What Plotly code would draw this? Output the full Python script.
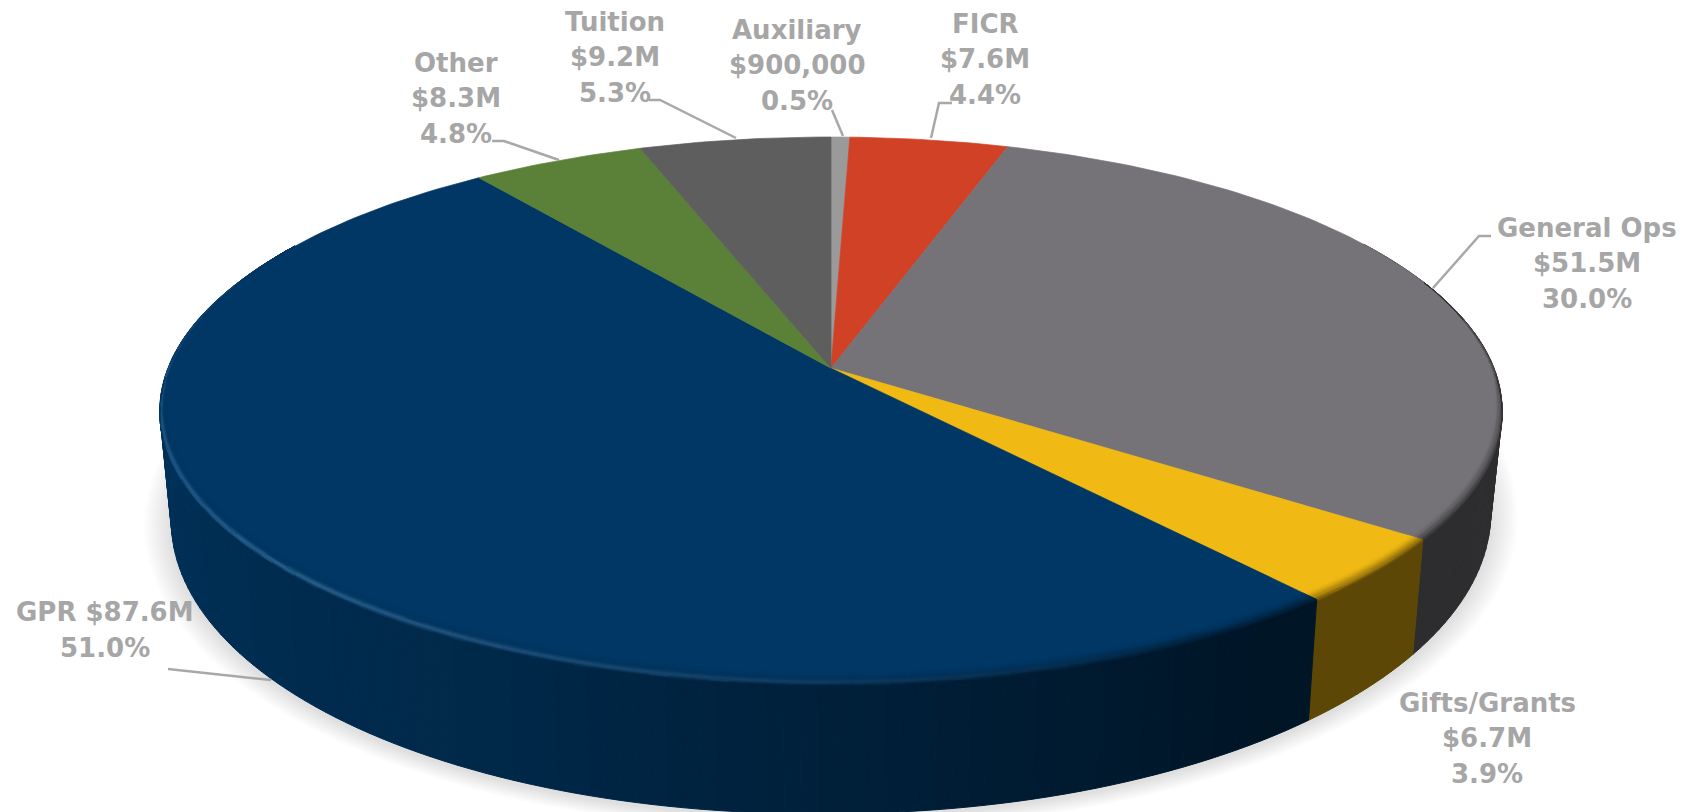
import math
import numpy as np
import plotly.graph_objects as go

# clockwise from 12 o'clock
categories = ['Auxiliary', 'FICR', 'General Ops', 'Gifts/Grants', 'GPR', 'Other', 'Tuition']
values = [0.9, 7.6, 51.5, 6.7, 87.6, 8.3, 9.2]
label_text = [['Auxiliary', '$900,000', '0.5%'], ['FICR', '$7.6M', '4.4%'], ['General Ops', '$51.5M', '30.0%'],
              ['Gifts/Grants', '$6.7M', '3.9%'], ['GPR $87.6M', '51.0%'], ['Other', '$8.3M', '4.8%'],
              ['Tuition', '$9.2M', '5.3%']]
colors = ['#9a9a9a', '#d04125', '#757378', '#f0b913', '#003764', '#5a8137', '#5e5e5e']

# label anchors and leader lines, in page pixels
label_pos = [(797, 65), (985, 59), (1587, 263), (1487, 738), (105, 630), (456, 98), (615, 57)]
leaders = [
    [(832, 110), (843, 136)],
    [(952, 103), (939, 103), (931, 138)],
    [(1491, 236), (1479, 236), (1433, 288)],
    [(168, 669), (271, 680)],
    [(492, 141), (504, 141), (559, 160)],
    [(649, 100), (660, 100), (736, 138)],
]

# perspective of the pie disc
CX, CY, A, B, K = 831.0, 368.2, 663.0, 267.0, 0.155
BOT_CY, BOT_SX, BOT_SY, TILT = 466.0, 0.983, 1.1, -0.012


def top_pt(t, r=1.0):
    x, y = r * math.sin(math.radians(t)), r * math.cos(math.radians(t))
    den = 1 + K * y
    return CX + A * x / den, CY - B * y / den


def bot_pt(t):
    px, py = top_pt(t)
    return CX + BOT_SX * (px - CX), BOT_CY + BOT_SY * (py - CY) + TILT * min(px - CX, 0)


def side_shade(t):
    return np.interp(t, [0, 145, 180, 205, 240, 275, 360], [.42, .38, .58, .72, .83, .92, .92])


def rgb(hex_color):
    return np.array([int(hex_color[i:i + 2], 16) for i in (1, 3, 5)], dtype=float)


def to_hex(c):
    c = np.clip(np.round(np.array(c)), 0, 255).astype(int)
    return '#%02x%02x%02x' % tuple(c)


def steps(t0, t1, size):
    n = max(1, int(math.ceil((t1 - t0) / size)))
    return [t0 + (t1 - t0) * i / n for i in range(n + 1)]


polys = {}


def add_poly(color, pts):
    polys.setdefault(color, []).append(pts)


def flush(fig, width=0.7):
    for color, items in polys.items():
        xs, ys = [], []
        for pts in items:
            xs += [p[0] for p in pts] + [pts[0][0], None]
            ys += [p[1] for p in pts] + [pts[0][1], None]
        fig.add_trace(go.Scatter(x=xs, y=ys, mode='lines', fill='toself', fillcolor=color,
                                 line=dict(color=color, width=width), hoverinfo='skip', showlegend=False))
    polys.clear()


total = sum(values)
edges = np.cumsum([0] + values) / total * 360
fig = go.Figure()

# soft shadow under the disc
for i in range(16):
    grow = 1 + 0.0026 * (i + 1)
    ts = steps(0, 360, 3)
    pts = [bot_pt(t) for t in ts]
    xs = [CX + (p[0] - CX) * grow for p in pts]
    ys = [BOT_CY + 3 + (p[1] - BOT_CY) * grow for p in pts]
    fig.add_trace(go.Scatter(x=xs, y=ys, mode='lines', fill='toself', fillcolor='rgba(0,0,0,0.009)',
                             line=dict(width=0), hoverinfo='skip', showlegend=False))

# side wall, shaded by angle; each strip is its own trace because strips fold over near the silhouette
for i, c in enumerate(colors):
    base = rgb(c)
    ts = steps(edges[i], edges[i + 1], 1.25)
    for t0, t1 in zip(ts[:-1], ts[1:]):
        if t0 > 285 or t1 < 60:
            continue
        col = to_hex(base * side_shade((t0 + t1) / 2))
        add_poly(col, [top_pt(t0), top_pt(t1), bot_pt(t1), bot_pt(t0)])
        flush(fig, 1.0)

# top face
for i, c in enumerate(colors):
    ts = steps(edges[i], edges[i + 1], 1)
    pts = [(CX, CY)] + [top_pt(t) for t in ts]
    add_poly(c, pts)
flush(fig)

# bevel on the near rim
BANDS = 10
for i, c in enumerate(colors):
    base = rgb(c)
    ts = steps(edges[i], edges[i + 1], 1.5)
    for t0, t1 in zip(ts[:-1], ts[1:]):
        tm = (t0 + t1) / 2
        strength = np.interp(tm, [70, 95, 270, 300], [0, 1, 1, 0])
        if strength <= 0:
            continue
        side = base * side_shade(tm)
        glow = np.interp(tm, [150, 185, 225, 270, 300], [0, .15, .33, .2, .03])

        def rim(t, u):
            # u runs from 0 (on the face) to 1 (down on the wall), stays on the radius while on the face
            d = (0.007 + 0.024 * abs(math.cos(math.radians(t)))) * strength
            x, y = top_pt(t, 1 - d * max(0, 1 - u / 0.67))
            return x, y + 12 * max(0, u - 0.67) * strength

        for b in range(BANDS):
            u0, u1 = b / BANDS, (b + 1) / BANDS
            um = (u0 + u1) / 2
            mix = um * um * (3 - 2 * um)
            col = base * (1 - mix) + side * mix
            bump = math.exp(-((um - 0.58) / 0.16) ** 2)
            col = col + (np.array([120, 140, 160]) * glow * bump)
            add_poly(to_hex(col), [rim(t0, u0), rim(t1, u0), rim(t1, u1), rim(t0, u1)])
flush(fig)

for line in leaders:
    fig.add_trace(go.Scatter(x=[p[0] for p in line], y=[p[1] for p in line], mode='lines',
                             line=dict(color='#a8a8a8', width=2.5), hoverinfo='skip', showlegend=False))

for lines, (x, y) in zip(label_text, label_pos):
    for j, text in enumerate(lines):
        fig.add_annotation(x=x, y=y + (j - (len(lines) - 1) / 2) * 35.5, xref='x', yref='y', text=text,
                           showarrow=False, align='center', xanchor='center', yanchor='middle',
                           font=dict(family='DejaVu Sans', size=26, color='#a6a6a6', weight=700))

fig.update_layout(
    width=1688, height=812, autosize=False,
    margin=dict(l=0, r=0, t=0, b=0),
    paper_bgcolor='white', plot_bgcolor='white',
    xaxis=dict(range=[0, 1688], visible=False, fixedrange=True),
    yaxis=dict(range=[812, 0], visible=False, fixedrange=True),
    showlegend=False,
)
fig.write_html("out.html", config=dict(displayModeBar=False),
               post_script="document.body.style.margin='0';")
